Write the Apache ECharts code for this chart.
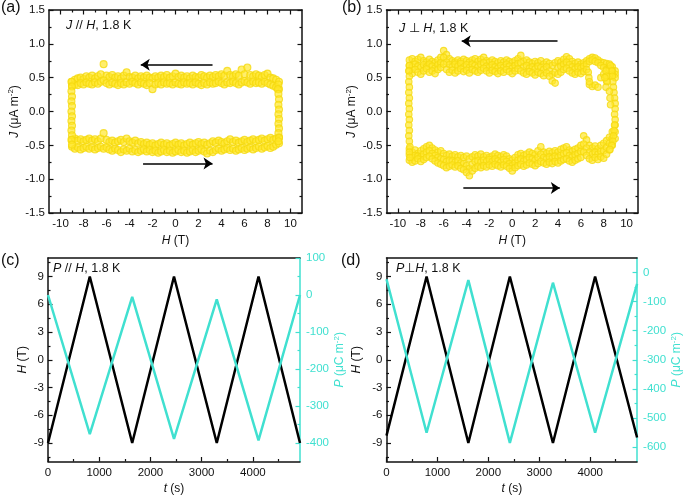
<!DOCTYPE html>
<html><head><meta charset="utf-8">
<script src="https://cdn.jsdelivr.net/npm/echarts@6/dist/echarts.min.js"></script>
<style>html,body{margin:0;padding:0;background:#fff}#c{width:685px;height:500px}</style>
</head><body><div id="c"></div>
<script>
// ---------- data ----------
const hSweep = [-9,-8.75,-8.5,-8.25,-8,-7.75,-7.5,-7.25,-7,-6.75,-6.5,-6.25,-6,-5.75,-5.5,-5.25,-5,-4.75,-4.5,-4.25,-4,-3.75,-3.5,-3.25,-3,-2.75,-2.5,-2.25,-2,-1.75,-1.5,-1.25,-1,-0.75,-0.5,-0.25,0,0.25,0.5,0.75,1,1.25,1.5,1.75,2,2.25,2.5,2.75,3,3.25,3.5,3.75,4,4.25,4.5,4.75,5,5.25,5.5,5.75,6,6.25,6.5,6.75,7,7.25,7.5,7.75,8,8.25,8.5,8.75,9];

// panel (a): J // H
const aTopHi = [0.44,0.47,0.49,0.5,0.48,0.52,0.5,0.53,0.49,0.52,0.55,0.7,0.53,0.51,0.54,0.5,0.52,0.49,0.53,0.58,0.51,0.5,0.53,0.49,0.52,0.5,0.53,0.5,0.49,0.52,0.5,0.53,0.51,0.54,0.5,0.52,0.56,0.51,0.53,0.5,0.52,0.49,0.53,0.51,0.5,0.54,0.52,0.5,0.53,0.51,0.54,0.52,0.55,0.53,0.6,0.54,0.52,0.55,0.53,0.62,0.55,0.65,0.54,0.52,0.55,0.53,0.51,0.54,0.56,0.5,0.49,0.47,0.44];
const aTopLo = [0.38,0.4,0.39,0.42,0.4,0.43,0.41,0.4,0.43,0.41,0.44,0.46,0.42,0.4,0.43,0.41,0.39,0.42,0.4,0.43,0.41,0.44,0.42,0.4,0.43,0.41,0.39,0.42,0.33,0.4,0.42,0.4,0.43,0.41,0.42,0.4,0.43,0.41,0.4,0.43,0.41,0.42,0.4,0.43,0.41,0.39,0.42,0.4,0.43,0.41,0.42,0.44,0.42,0.4,0.43,0.42,0.44,0.42,0.4,0.43,0.45,0.43,0.41,0.44,0.42,0.43,0.41,0.44,0.42,0.4,0.38,0.36,0.33];
const aBotHi = [-0.42,-0.4,-0.43,-0.41,-0.44,-0.42,-0.4,-0.43,-0.41,-0.44,-0.4,-0.32,-0.42,-0.45,-0.43,-0.46,-0.44,-0.42,-0.45,-0.4,-0.44,-0.46,-0.43,-0.47,-0.45,-0.48,-0.46,-0.49,-0.47,-0.5,-0.48,-0.46,-0.49,-0.47,-0.5,-0.48,-0.46,-0.49,-0.47,-0.5,-0.48,-0.46,-0.49,-0.47,-0.45,-0.48,-0.46,-0.49,-0.47,-0.44,-0.46,-0.43,-0.45,-0.47,-0.44,-0.41,-0.45,-0.43,-0.46,-0.44,-0.42,-0.45,-0.43,-0.41,-0.44,-0.42,-0.4,-0.43,-0.41,-0.39,-0.42,-0.4,-0.38];
const aBotLo = [-0.52,-0.55,-0.53,-0.56,-0.54,-0.52,-0.55,-0.53,-0.56,-0.54,-0.52,-0.55,-0.53,-0.56,-0.58,-0.55,-0.57,-0.6,-0.56,-0.58,-0.55,-0.59,-0.57,-0.6,-0.58,-0.56,-0.59,-0.57,-0.6,-0.58,-0.61,-0.59,-0.57,-0.6,-0.58,-0.61,-0.59,-0.57,-0.6,-0.58,-0.61,-0.59,-0.57,-0.6,-0.58,-0.56,-0.59,-0.62,-0.58,-0.6,-0.57,-0.55,-0.58,-0.56,-0.54,-0.57,-0.55,-0.58,-0.56,-0.54,-0.57,-0.55,-0.53,-0.56,-0.54,-0.52,-0.55,-0.53,-0.51,-0.54,-0.52,-0.49,-0.47];
const aLeftEdge = [[-9.05,0.44],[-9.0,0.37],[-9.05,0.3],[-9.0,0.22],[-9.05,0.15],[-9.0,0.08],[-9.05,0.0],[-9.0,-0.07],[-9.05,-0.14],[-9.0,-0.21],[-9.05,-0.28],[-9.0,-0.35],[-9.05,-0.42],[-9.0,-0.49]];
const aRightEdge = [[8.95,0.4],[8.9,0.33],[8.95,0.26],[9.0,0.18],[8.95,0.1],[9.0,0.03],[8.95,-0.04],[9.0,-0.11],[8.95,-0.18],[9.0,-0.25],[8.95,-0.32],[9.0,-0.39],[8.95,-0.44]];
const aArrowTop = [[3.22,0.69],[-3.02,0.69]];
const aArrowBot = [[-2.82,-0.77],[3.22,-0.77]];

// panel (b): J ⊥ H
const bTopHi = [0.76,0.78,0.74,0.77,0.8,0.75,0.73,0.77,0.74,0.72,0.76,0.8,0.9,0.84,0.78,0.75,0.73,0.76,0.74,0.77,0.75,0.73,0.76,0.78,0.74,0.77,0.8,0.75,0.73,0.76,0.74,0.72,0.75,0.73,0.76,0.74,0.72,0.75,0.78,0.83,0.74,0.76,0.73,0.71,0.74,0.72,0.75,0.7,0.73,0.71,0.68,0.72,0.75,0.73,0.77,0.81,0.78,0.74,0.71,0.73,0.7,0.72,0.75,0.78,0.8,0.79,0.76,0.73,0.72,0.71,0.7,0.66,0.6];
const bTopMid = [0.68,0.66,0.7,0.67,0.65,0.69,0.66,0.7,0.67,0.64,0.69,0.72,0.8,0.73,0.69,0.66,0.7,0.67,0.71,0.66,0.69,0.65,0.7,0.68,0.66,0.7,0.72,0.67,0.65,0.69,0.66,0.64,0.68,0.65,0.7,0.67,0.64,0.68,0.71,0.72,0.66,0.68,0.64,0.66,0.63,0.67,0.65,0.62,0.66,0.6,0.55,0.58,0.65,0.67,0.7,0.73,0.69,0.66,0.63,0.66,0.64,0.67,0.7,0.74,0.76,0.74,0.72,0.68,0.65,0.62,0.63,0.6,0.55];
const bTopLo = [0.6,0.56,0.62,0.58,0.55,0.6,0.63,0.58,0.6,0.56,0.62,0.65,0.7,0.62,0.58,0.61,0.57,0.6,0.63,0.59,0.61,0.57,0.62,0.6,0.58,0.61,0.64,0.6,0.57,0.61,0.59,0.56,0.6,0.58,0.62,0.59,0.56,0.6,0.63,0.6,0.57,0.55,0.59,0.57,0.54,0.58,0.56,0.53,0.57,0.52,0.45,0.42,0.55,0.58,0.62,0.64,0.6,0.57,0.55,0.58,0.56,0.59,0.62,0.4,0.37,0.39,0.36,0.5,0.55,0.45,0.52,0.55,0.5];
const bBotHi = [-0.55,-0.6,-0.57,-0.62,-0.58,-0.55,-0.52,-0.5,-0.54,-0.57,-0.6,-0.58,-0.62,-0.65,-0.63,-0.66,-0.64,-0.67,-0.65,-0.68,-0.66,-0.7,-0.67,-0.64,-0.66,-0.63,-0.67,-0.65,-0.68,-0.66,-0.63,-0.65,-0.67,-0.64,-0.66,-0.7,-0.72,-0.68,-0.64,-0.62,-0.65,-0.63,-0.6,-0.62,-0.64,-0.58,-0.52,-0.6,-0.62,-0.59,-0.61,-0.58,-0.6,-0.56,-0.54,-0.52,-0.57,-0.59,-0.56,-0.54,-0.5,-0.36,-0.42,-0.5,-0.54,-0.51,-0.55,-0.5,-0.47,-0.43,-0.38,-0.3,-0.2];
const bBotMid = [-0.64,-0.68,-0.65,-0.66,-0.67,-0.63,-0.6,-0.58,-0.62,-0.65,-0.68,-0.7,-0.71,-0.74,-0.72,-0.73,-0.75,-0.73,-0.76,-0.77,-0.8,-0.84,-0.78,-0.74,-0.73,-0.75,-0.72,-0.74,-0.71,-0.74,-0.7,-0.73,-0.75,-0.71,-0.74,-0.77,-0.8,-0.76,-0.72,-0.7,-0.73,-0.71,-0.68,-0.7,-0.72,-0.68,-0.63,-0.68,-0.7,-0.67,-0.69,-0.66,-0.68,-0.65,-0.62,-0.61,-0.65,-0.67,-0.64,-0.62,-0.59,-0.48,-0.54,-0.6,-0.63,-0.6,-0.63,-0.59,-0.58,-0.53,-0.47,-0.4,-0.3];
const bBotLo = [-0.72,-0.75,-0.73,-0.7,-0.74,-0.71,-0.68,-0.66,-0.7,-0.73,-0.76,-0.78,-0.8,-0.83,-0.81,-0.79,-0.82,-0.8,-0.84,-0.86,-0.9,-0.95,-0.88,-0.84,-0.81,-0.83,-0.8,-0.82,-0.79,-0.81,-0.78,-0.8,-0.82,-0.79,-0.81,-0.84,-0.88,-0.83,-0.8,-0.78,-0.81,-0.79,-0.76,-0.78,-0.8,-0.77,-0.74,-0.76,-0.78,-0.75,-0.77,-0.74,-0.76,-0.73,-0.71,-0.7,-0.73,-0.75,-0.72,-0.7,-0.68,-0.6,-0.65,-0.7,-0.72,-0.68,-0.71,-0.67,-0.69,-0.63,-0.57,-0.5,-0.4];
const bLeftEdge = [[-9.0,0.68],[-9.05,0.6],[-9.0,0.52],[-9.05,0.44],[-9.0,0.36],[-9.05,0.28],[-9.0,0.2],[-9.05,0.12],[-9.0,0.04],[-9.05,-0.04],[-9.0,-0.12],[-9.05,-0.2],[-9.0,-0.28],[-9.05,-0.36],[-9.0,-0.44],[-8.95,-0.52],[-9.0,-0.6],[-8.95,-0.68]];
const bRightEdge = [[8.6,0.68],[8.7,0.6],[8.75,0.52],[8.8,0.44],[8.85,0.36],[8.9,0.28],[8.95,0.2],[9.0,0.12],[9.0,0.04],[8.95,-0.04],[9.0,-0.12],[8.95,-0.2],[8.9,-0.28],[8.85,-0.36],[8.8,-0.44],[8.7,-0.5],[8.55,-0.56],[8.2,0.6],[8.25,0.52],[8.3,0.44],[8.2,0.36],[8.1,0.5],[6.65,0.58],[6.7,0.5],[6.75,0.44],[8.5,0.3],[8.55,0.2],[8.6,0.1]];
const bArrowTop = [[3.96,1.04],[-4.42,1.04]];
const bArrowBot = [[-4.28,-1.13],[4.16,-1.13]];

// panel (c): P // H  (vertices of the sweeps)
const cTime = [0,816,1644,2460,3295,4110,4920];
const cH    = [-9,9,-9,9,-9,9,-9];
const cP    = [0,-376,-5,-389,-12,-393,0];
// panel (d): P ⊥ H
const dTime = [0,787,1607,2422,3268,4096,4920];
const dH    = [-8.2,9,-9,9,-9,9,-8.4];
const dP    = [-23,-551,-26,-586,-35,-551,-39];

// tick values
const hMajors = [-10,-8,-6,-4,-2,0,2,4,6,8,10];
const hMinors = [-9,-7,-5,-3,-1,1,3,5,7,9];
const jMajors = [-1.5,-1,-0.5,0,0.5,1,1.5];
const jMinors = [-1.25,-0.75,-0.25,0.25,0.75,1.25];
const tMajors = [0,1000,2000,3000,4000];
const tMinors = [500,1500,2500,3500,4500];
const hfMajors = [-9,-6,-3,0,3,6,9];
const hfMinors = [-10.5,-7.5,-4.5,-1.5,1.5,4.5,7.5,10.5];
const cPMajors = [-400,-300,-200,-100,0,100];
const cPMinors = [-350,-250,-150,-50,50];
const dPMajors = [-600,-500,-400,-300,-200,-100,0];
const dPMinors = [-550,-450,-350,-250,-150,-50];

// ---------- chart ----------
const FONT = '"Liberation Sans", Arial, Helvetica, sans-serif';
const BLACK = '#111';
const CYAN = '#40E0D0';
const YEL = '#F5D90F';
const zip = (xs, ys) => xs.map((x, i) => [x, ys[i]]);

const xAxes = [], yAxes = [];
function nameStyle(color) {
  return {color: color, fontSize: 12, fontFamily: FONT, lineHeight: 14,
    rich: {i: {fontStyle: 'italic', fontSize: 12, fontFamily: FONT, color: color, lineHeight: 14},
           s: {fontSize: 8, fontFamily: FONT, color: color, verticalAlign: 'top', lineHeight: 8}}};
}
function addAxes(list, o) {
  const idx = list.length;
  list.push({
    type: 'value', gridIndex: o.g, position: o.pos, min: o.min, max: o.max,
    splitLine: {show: false},
    axisLine: {show: true, onZero: false, lineStyle: {color: o.color, width: 1.5}},
    axisTick: {show: !!o.majors, inside: true, length: 4.5, customValues: o.majors || [], lineStyle: {color: o.color, width: 1.2}},
    axisLabel: {show: !!o.labels, customValues: o.majors || [], formatter: o.fmt, color: o.color,
      fontSize: 11.5, fontFamily: FONT, margin: o.margin == null ? 5 : o.margin},
    name: o.name || '', nameLocation: 'middle', nameGap: o.nameGap || 0, nameTextStyle: nameStyle(o.color)
  });
  if (o.minors) {
    list.push({
      type: 'value', gridIndex: o.g, position: o.pos, min: o.min, max: o.max,
      splitLine: {show: false}, axisLine: {show: false, onZero: false},
      axisTick: {show: true, inside: true, length: 2.5, customValues: o.minors, lineStyle: {color: o.color, width: 1.2}},
      axisLabel: {show: false}
    });
  }
  return idx;
}
const f1 = v => v.toFixed(1);
const f0 = v => String(v);

const grids = [
  {left: 49, top: 10, width: 253, height: 203},
  {left: 386.5, top: 10, width: 251.5, height: 203},
  {left: 48, top: 258, width: 252, height: 203.5},
  {left: 386.5, top: 258, width: 251.5, height: 203.5}
];

// (a) and (b)
const loopAx = [];
[0, 1].forEach(g => {
  const xb = addAxes(xAxes, {g, pos: 'bottom', min: -11, max: 11, majors: hMajors, minors: hMinors, labels: true, fmt: f0, color: BLACK,
    name: '{i|H} (T)', nameGap: 21});
  addAxes(xAxes, {g, pos: 'top', min: -11, max: 11, majors: hMajors, minors: hMinors, color: BLACK});
  const yl = addAxes(yAxes, {g, pos: 'left', min: -1.5, max: 1.5, majors: jMajors, minors: jMinors, labels: true, fmt: f1, color: BLACK,
    margin: 4, name: '{i|J} (μA m{s|-2})', nameGap: g === 0 ? 26 : 23});
  addAxes(yAxes, {g, pos: 'right', min: -1.5, max: 1.5, majors: jMajors, minors: jMinors, color: BLACK});
  loopAx.push([xb, yl]);
});
// (c) and (d)
const sweepAx = [];
[2, 3].forEach(g => {
  const isC = g === 2;
  const xb = addAxes(xAxes, {g, pos: 'bottom', min: 0, max: 4920, majors: tMajors, minors: tMinors, labels: true, fmt: f0, color: BLACK,
    name: '{i|t} (s)', nameGap: 20});
  addAxes(xAxes, {g, pos: 'top', min: 0, max: 4920, color: BLACK});
  const yl = addAxes(yAxes, {g, pos: 'left', min: -11, max: 11, majors: hfMajors, minors: hfMinors, labels: true, fmt: f0, color: BLACK,
    margin: 4, name: '{i|H} (T)', nameGap: isC ? 18 : 23});
  const yr = addAxes(yAxes, {g, pos: 'right', min: isC ? -450 : -650, max: isC ? 100 : 50,
    majors: isC ? cPMajors : dPMajors, minors: isC ? cPMinors : dPMinors, labels: true, fmt: f0, color: CYAN,
    margin: 6, name: '{i|P} (μC m{s|-2})', nameGap: isC ? 33 : 31});
  sweepAx.push([xb, yl, yr]);
});

function loopData(rows, edges) {
  let out = [];
  rows.forEach(r => { out = out.concat(zip(hSweep, r)); });
  edges.forEach(e => { out = out.concat(e); });
  return out;
}
function arrows(top, bot) {
  return {
    silent: true, symbol: ['none', 'arrow'], symbolSize: 9, animation: false,
    lineStyle: {color: '#000', width: 1.5, type: 'solid'}, label: {show: false},
    data: [[{coord: top[0]}, {coord: top[1]}], [{coord: bot[0]}, {coord: bot[1]}]]
  };
}
const scatterStyle = {color: 'rgba(255,230,40,0.85)', borderColor: YEL, borderWidth: 1.1};

const series = [
  {type: 'scatter', xAxisIndex: loopAx[0][0], yAxisIndex: loopAx[0][1], symbol: 'circle', symbolSize: 7,
   itemStyle: scatterStyle, data: loopData([aTopHi, aTopLo, aBotHi, aBotLo], [aLeftEdge, aRightEdge]),
   markLine: arrows(aArrowTop, aArrowBot)},
  {type: 'scatter', xAxisIndex: loopAx[1][0], yAxisIndex: loopAx[1][1], symbol: 'circle', symbolSize: 6.5,
   itemStyle: scatterStyle, data: loopData([bTopHi, bTopMid, bTopLo, bBotHi, bBotMid, bBotLo], [bLeftEdge, bRightEdge]),
   markLine: arrows(bArrowTop, bArrowBot)},
  {type: 'line', xAxisIndex: sweepAx[0][0], yAxisIndex: sweepAx[0][1], data: zip(cTime, cH), showSymbol: false,
   lineStyle: {color: '#000', width: 2.5}, itemStyle: {color: '#000'}},
  {type: 'line', xAxisIndex: sweepAx[0][0], yAxisIndex: sweepAx[0][2], data: zip(cTime, cP), showSymbol: false,
   lineStyle: {color: CYAN, width: 2.5}, itemStyle: {color: CYAN}},
  {type: 'line', xAxisIndex: sweepAx[1][0], yAxisIndex: sweepAx[1][1], data: zip(dTime, dH), showSymbol: false,
   lineStyle: {color: '#000', width: 2.5}, itemStyle: {color: '#000'}},
  {type: 'line', xAxisIndex: sweepAx[1][0], yAxisIndex: sweepAx[1][2], data: zip(dTime, dP), showSymbol: false,
   lineStyle: {color: CYAN, width: 2.5}, itemStyle: {color: CYAN}}
];

const richI = {i: {fontStyle: 'italic', fontSize: 12.5, fontFamily: FONT, fill: '#111'}};
function txt(left, top, text, size, rich) {
  return {type: 'text', left: left, top: top, z: 100,
    style: {text: text, fontSize: size, fontFamily: FONT, fill: '#111', rich: rich}};
}
const graphic = [
  txt(1, 0, '(a)', 16),
  txt(342, 0, '(b)', 16),
  txt(1, 253, '(c)', 16),
  txt(341, 253, '(d)', 16),
  txt(66, 19.5, '{i|J} // {i|H}, 1.8 K', 12.5, richI),
  txt(399, 22, '{i|J} ⊥ {i|H}, 1.8 K', 12.5, richI),
  txt(53, 262.5, '{i|P} // {i|H}, 1.8 K', 12.5, richI),
  txt(396, 262.5, '{i|P}⊥{i|H}, 1.8 K', 12.5, richI)
];

const chart = echarts.init(document.getElementById('c'), null, {renderer: 'canvas'});
chart.setOption({
  animation: false,
  backgroundColor: '#fff',
  grid: grids,
  xAxis: xAxes,
  yAxis: yAxes,
  series: series,
  graphic: graphic
});
</script></body></html>
